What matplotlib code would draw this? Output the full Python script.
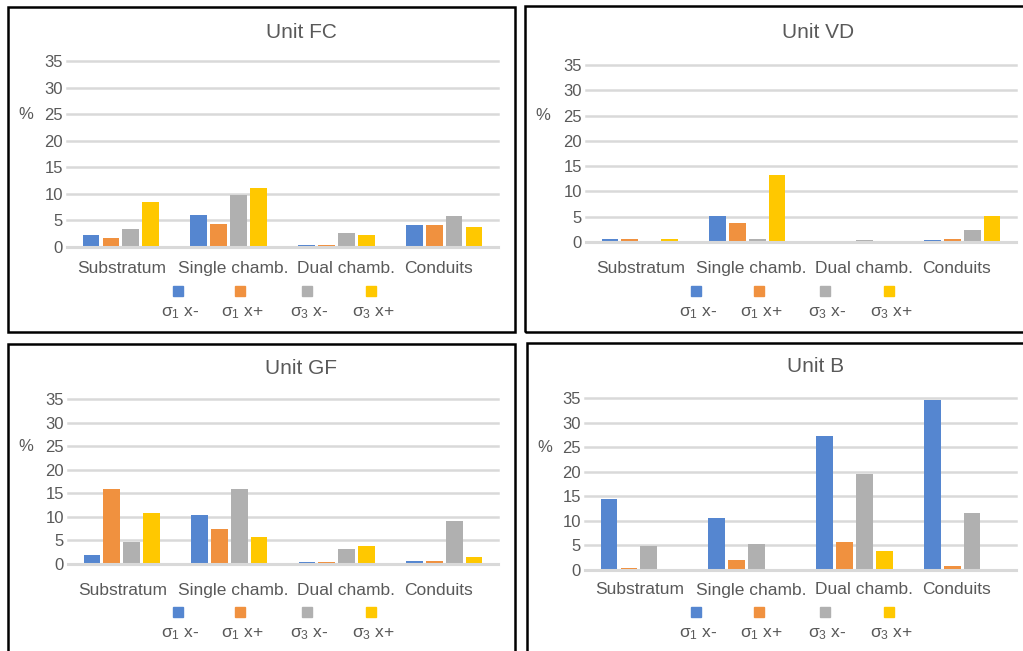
import matplotlib
matplotlib.use("Agg")
import matplotlib.pyplot as plt
from matplotlib.patches import Rectangle
import numpy as np

plt.rcParams['font.family'] = ['Liberation Sans', 'DejaVu Sans']
plt.rcParams['mathtext.fontset'] = 'custom'
plt.rcParams['mathtext.rm'] = 'Liberation Sans'
plt.rcParams['mathtext.it'] = 'Liberation Sans'

categories = ["Substratum", "Single chamb.", "Dual chamb.", "Conduits"]
series_labels = [r"$\mathregular{σ_1}$ x-", r"$\mathregular{σ_1}$ x+",
                 r"$\mathregular{σ_3}$ x-", r"$\mathregular{σ_3}$ x+"]
colors = ["#5586D0", "#F0913F", "#B0B0B0", "#FFC800"]
yticks = [0, 5, 10, 15, 20, 25, 30, 35]

# percentages per category: [substratum, single, dual, conduits]
fc_s1_minus = [2.3, 6.1, 0.3, 4.1]
fc_s1_plus = [1.6, 4.3, 0.3, 4.1]
fc_s3_minus = [3.3, 9.8, 2.6, 5.8]
fc_s3_plus = [8.4, 11.1, 2.3, 3.8]

vd_s1_minus = [0.6, 5.1, 0.0, 0.3]
vd_s1_plus = [0.6, 3.8, 0.0, 0.6]
vd_s3_minus = [0.0, 0.6, 0.3, 2.4]
vd_s3_plus = [0.6, 13.3, 0.0, 5.1]

gf_s1_minus = [2.0, 10.3, 0.4, 0.6]
gf_s1_plus = [15.9, 7.4, 0.4, 0.6]
gf_s3_minus = [4.6, 15.9, 3.2, 9.1]
gf_s3_plus = [10.8, 5.7, 3.8, 1.5]

b_s1_minus = [14.4, 10.6, 27.2, 34.6]
b_s1_plus = [0.5, 2.0, 5.7, 0.8]
b_s3_minus = [4.9, 5.2, 19.6, 11.7]
b_s3_plus = [0.3, 0.3, 3.8, 0.3]

# category label centres, slightly staggered to keep the long names apart
label_pos = [0.01, 1.04, 2.09, 2.95]

W, H = 1023, 651
fig = plt.figure(figsize=(W / 100, H / 100), dpi=100)
TXT = "#595959"
GRID = "#D9D9D9"


def fx(px):
    return px / W


def fy(py):
    return 1 - py / H


def panel(box, axbox, title, title_xy, series, leg_x, leg_y, xpad):
    # black frame around the panel
    x0, y0, x1, y1 = box
    fig.patches.append(Rectangle((fx(x0), fy(y1)), fx(x1) - fx(x0), fy(y0) - fy(y1),
                                 transform=fig.transFigure, fill=False,
                                 edgecolor="black", linewidth=1.8, zorder=10))
    l, t, r, b = axbox
    ax = fig.add_axes([fx(l), fy(b), fx(r) - fx(l), fy(t) - fy(b)])
    x = np.arange(len(categories))
    pitch, width = 0.185, 0.155
    for i, (vals, c) in enumerate(zip(series, colors)):
        ax.bar(x + (i - 1.5) * pitch, vals, width=width, color=c, zorder=2)
    ax.set_xlim(-0.5, 3.5)
    ax.set_ylim(0, 35)
    ax.set_yticks(yticks)
    ax.set_xticks(label_pos)
    ax.set_xticklabels(categories, fontsize=12.5, color=TXT)
    ax.tick_params(axis="x", length=0, pad=xpad)
    ax.tick_params(axis="y", length=0, pad=3, labelsize=12, labelcolor=TXT)
    for yv in yticks[1:]:
        ax.axhline(yv, color=GRID, linewidth=1.8, zorder=1, clip_on=False)
    for s in ["top", "right", "left"]:
        ax.spines[s].set_visible(False)
    ax.spines["bottom"].set_color(GRID)
    ax.spines["bottom"].set_linewidth(2.2)
    ax.spines["bottom"].set_zorder(3)
    ax.set_ylabel("%", rotation=0, fontsize=12, color=TXT, va="center", ha="center")
    ax.yaxis.set_label_coords((x0 + 18 - l) / (r - l), 25 / 35)
    fig.text(fx(title_xy[0]), fy(title_xy[1]), title, ha="center", va="center",
             fontsize=15, color=TXT)
    for xs, lab, c in zip(leg_x, series_labels, colors):
        fig.patches.append(Rectangle((fx(xs - 5), fy(leg_y + 5)), fx(10), 10 / H,
                                     transform=fig.transFigure, color=c))
        fig.text(fx(xs + 2), fy(leg_y + 22), lab, ha="center", va="center",
                 fontsize=12.5, color=TXT)
    return ax


panel((8, 7, 515, 332), (67, 61, 498, 247), "Unit FC", (301, 32),
      [fc_s1_minus, fc_s1_plus, fc_s3_minus, fc_s3_plus],
      [178, 240, 307, 371], 291, 10)
panel((525, 6, 1030, 332), (586, 65, 1016, 242), "Unit VD", (818, 33),
      [vd_s1_minus, vd_s1_plus, vd_s3_minus, vd_s3_plus],
      [696, 759, 825, 889], 291, 14)
panel((8, 344, 515, 660), (68, 399, 498, 564), "Unit GF", (301, 369),
      [gf_s1_minus, gf_s1_plus, gf_s3_minus, gf_s3_plus],
      [178, 240, 307, 371], 612, 14)
panel((527, 343, 1030, 660), (585, 398, 1016, 570), "Unit B", (816, 367),
      [b_s1_minus, b_s1_plus, b_s3_minus, b_s3_plus],
      [696, 759, 825, 889], 612, 9)

fig.savefig("out.png", dpi=100)
